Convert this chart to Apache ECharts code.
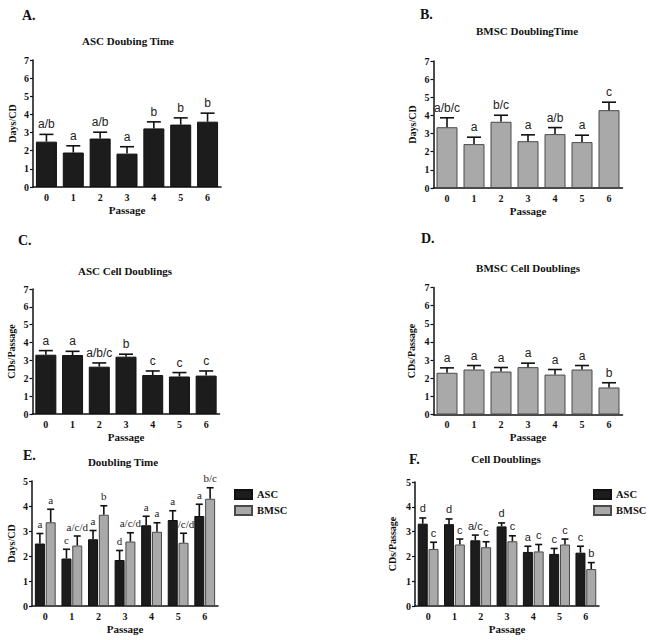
<!DOCTYPE html>
<html>
<head>
<meta charset="utf-8">
<script src="https://cdn.jsdelivr.net/npm/echarts@6/dist/echarts.min.js"></script>
<style>
  html, body { margin: 0; padding: 0; background: #fff; }
  #main { width: 649px; height: 640px; }
</style>
</head>
<body>
<div id="main"></div>
<script>
// passage numbers
var passages = ['0', '1', '2', '3', '4', '5', '6'];

// doubling time (days per cell doubling)
var ascDT = [2.5, 1.9, 2.67, 1.84, 3.23, 3.44, 3.6];
var ascDTErr = [0.4, 0.37, 0.35, 0.38, 0.36, 0.37, 0.47];
var bmscDT = [3.35, 2.42, 3.65, 2.58, 2.97, 2.53, 4.29];
var bmscDTErr = [0.52, 0.38, 0.36, 0.35, 0.36, 0.38, 0.44];

// cell doublings per passage
var ascCD = [3.32, 3.3, 2.65, 3.21, 2.18, 2.1, 2.15];
var ascCDErr = [0.23, 0.21, 0.21, 0.14, 0.23, 0.22, 0.26];
var bmscCD = [2.3, 2.48, 2.37, 2.61, 2.2, 2.48, 1.49];
var bmscCDErr = [0.27, 0.22, 0.22, 0.22, 0.28, 0.22, 0.26];

// significance letters
var lettersA = ['a/b', 'a', 'a/b', 'a', 'b', 'b', 'b'];
var lettersB = ['a/b/c', 'a', 'b/c', 'a', 'a/b', 'a', 'c'];
var lettersC = ['a', 'a', 'a/b/c', 'b', 'c', 'c', 'c'];
var lettersD = ['a', 'a', 'a', 'a', 'a', 'a', 'b'];
var lettersEAsc = ['a', 'c', 'a', 'd', 'a', 'a', 'a'];
var lettersEBmsc = ['a', 'a/c/d', 'b', 'a/c/d', 'a', 'a/c/d', 'b/c'];
var lettersFAsc = ['d', 'd', 'a/c', 'd', 'a', 'c', 'c'];
var lettersFBmsc = ['c', 'c', 'c', 'c', 'c', 'c', 'b'];

var yTicks7 = 7;
var yTicks5 = 5;

var SERIF = '"Liberation Serif", "Times New Roman", serif';
var SANS = '"Liberation Sans", Arial, sans-serif';
var BLACK = '#1c1c1c';
var GREY = '#a9a9a9';

var chart = echarts.init(document.getElementById('main'), null, { renderer: 'svg' });

var grids = [
  { left: 33, top: 60, width: 188, height: 127 },     // A
  { left: 433.5, top: 61, width: 189, height: 127 },  // B
  { left: 32.5, top: 289, width: 187, height: 125 },  // C
  { left: 433.5, top: 287.5, width: 189, height: 127 }, // D
  { left: 32, top: 481, width: 186, height: 125 },    // E
  { left: 415, top: 482, width: 184, height: 124 }    // F
];
var yNames = ['Days/CD', 'Days/CD', 'CDs/Passage', 'CDs/Passage', 'Days/CD', 'CDs/Passage'];
var yNameGaps = [16, 16, 16, 17, 16, 18];
var yMax = [yTicks7, yTicks7, yTicks7, yTicks7, yTicks5, yTicks5];

var xAxes = grids.map(function (g, i) {
  return {
    type: 'category', gridIndex: i, data: passages,
    name: 'Passage', nameLocation: 'middle', nameGap: 17,
    nameTextStyle: { fontFamily: SERIF, fontWeight: 'bold', fontSize: 11, color: '#111' },
    axisLine: { lineStyle: { color: '#111', width: 1.5 } },
    axisTick: { show: false },
    axisLabel: { fontFamily: SERIF, fontWeight: 'bold', fontSize: 10, color: '#111', margin: 5 }
  };
});
var yAxes = grids.map(function (g, i) {
  return {
    type: 'value', gridIndex: i, min: 0, max: yMax[i], interval: 1,
    name: yNames[i], nameLocation: 'middle', nameGap: yNameGaps[i], nameRotate: 90,
    nameTextStyle: { fontFamily: SERIF, fontWeight: 'bold', fontSize: 10, color: '#111' },
    axisLine: { show: true, lineStyle: { color: '#111', width: 1.5 } },
    axisTick: { show: true, length: 3, lineStyle: { color: '#111', width: 1.2 } },
    splitLine: { show: false },
    axisLabel: { fontFamily: SERIF, fontWeight: 'bold', fontSize: 10, color: '#111', margin: 4 }
  };
});

// error bar (upward only) plus letter above it
function errSeries(idx, means, errs, letters, offset, capHalf, font) {
  return {
    type: 'custom', xAxisIndex: idx, yAxisIndex: idx, silent: true, z: 5,
    encode: { x: 0, y: 1 },
    data: means.map(function (m, i) { return [i, m, errs[i]]; }),
    renderItem: function (params, api) {
      var i = params.dataIndex;
      var b = api.coord([api.value(0), api.value(1)]);
      var t = api.coord([api.value(0), api.value(1) + api.value(2)]);
      var x = b[0] + offset;
      return {
        type: 'group',
        children: [
          { type: 'line', shape: { x1: x, y1: b[1], x2: x, y2: t[1] }, style: { stroke: '#111', lineWidth: 1.6 } },
          { type: 'line', shape: { x1: x - capHalf, y1: t[1], x2: x + capHalf, y2: t[1] }, style: { stroke: '#111', lineWidth: 1.6 } },
          { type: 'text', x: x, y: t[1] - 4, style: { text: letters[i], font: font, fill: '#222', textAlign: 'center', textVerticalAlign: 'bottom' } }
        ]
      };
    }
  };
}

function barSeries(idx, name, values, color, width, gap) {
  var s = {
    type: 'bar', name: name, xAxisIndex: idx, yAxisIndex: idx, data: values,
    barWidth: width,
    itemStyle: { color: color, borderColor: color === BLACK ? '#111' : '#4a4a4a', borderWidth: 1 }
  };
  if (gap !== undefined) s.barGap = gap;
  return s;
}

var sansBig = '12px ' + SANS;
var serifSmall = '11px ' + SERIF;
var sansSmall = '11px ' + SANS;

var series = [
  barSeries(0, 'ASC doubling time', ascDT, BLACK, 21),
  errSeries(0, ascDT, ascDTErr, lettersA, 0, 7, sansBig),
  barSeries(1, 'BMSC doubling time', bmscDT, GREY, 21),
  errSeries(1, bmscDT, bmscDTErr, lettersB, 0, 7, sansBig),
  barSeries(2, 'ASC cell doublings', ascCD, BLACK, 21),
  errSeries(2, ascCD, ascCDErr, lettersC, 0, 7, sansBig),
  barSeries(3, 'BMSC cell doublings', bmscCD, GREY, 21),
  errSeries(3, bmscCD, bmscCDErr, lettersD, 0, 7, sansBig),
  barSeries(4, 'ASC', ascDT, BLACK, 10, '8%'),
  barSeries(4, 'BMSC', bmscDT, GREY, 10, '8%'),
  errSeries(4, ascDT, ascDTErr, lettersEAsc, -5.4, 3.5, serifSmall),
  errSeries(4, bmscDT, bmscDTErr, lettersEBmsc, 5.4, 3.5, serifSmall),
  barSeries(5, 'ASC', ascCD, BLACK, 10, '8%'),
  barSeries(5, 'BMSC', bmscCD, GREY, 10, '8%'),
  errSeries(5, ascCD, ascCDErr, lettersFAsc, -5.4, 3.5, sansSmall),
  errSeries(5, bmscCD, bmscCDErr, lettersFBmsc, 5.4, 3.5, sansSmall)
];

function legendAt(left) {
  return {
    left: left, top: 484, orient: 'vertical', data: ['ASC', 'BMSC'],
    itemWidth: 17, itemHeight: 9, itemGap: 5, icon: 'rect', selectedMode: false,
    textStyle: { fontFamily: SERIF, fontWeight: 'bold', fontSize: 10.5, color: '#111', padding: [0, 0, 0, 0] }
  };
}

function label(text, x, y, size, align) {
  return {
    type: 'text', x: x, y: y, silent: true,
    style: { text: text, font: 'bold ' + size + 'px ' + SERIF, fill: '#111', textAlign: align || 'center', textVerticalAlign: 'middle' }
  };
}

chart.setOption({
  backgroundColor: '#fff',
  animation: false,
  grid: grids,
  xAxis: xAxes,
  yAxis: yAxes,
  legend: [legendAt(229), legendAt(588)],
  series: series,
  graphic: [
    label('A.', 22, 15, 14, 'left'),
    label('B.', 420, 14, 14, 'left'),
    label('C.', 18, 240, 14, 'left'),
    label('D.', 421, 238, 14, 'left'),
    label('E.', 23, 455, 14, 'left'),
    label('F.', 409, 459, 14, 'left'),
    label('ASC Doubing Time', 128, 41, 11),
    label('BMSC DoublingTime', 527, 31, 11),
    label('ASC Cell Doublings', 125, 271, 11),
    label('BMSC Cell Doublings', 528, 268, 11),
    label('Doubling Time', 123, 462, 11),
    label('Cell Doublings', 506, 459, 11)
  ]
});
</script>
</body>
</html>
